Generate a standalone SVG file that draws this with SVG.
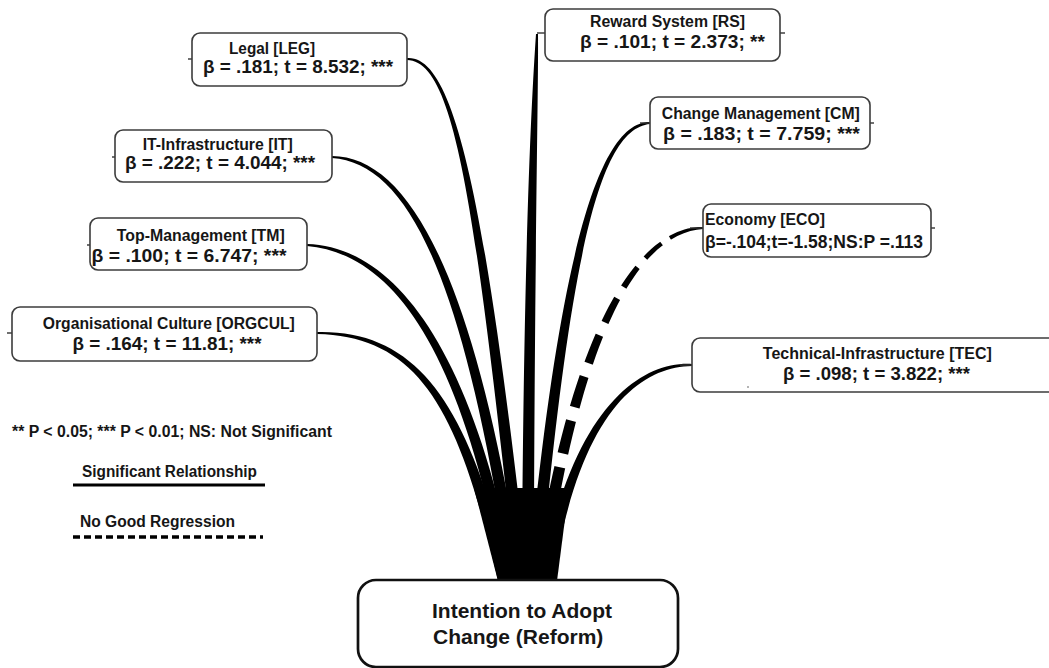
<svg xmlns="http://www.w3.org/2000/svg" width="1049" height="668" viewBox="0 0 1049 668">
  <style>
    .box { fill: #fff; stroke: #3c3c3c; stroke-width: 1.6; }
    .main { fill: #fff; stroke: #111; stroke-width: 2.7; }
    .t1 { font-family: "Liberation Sans", Arial, sans-serif; font-weight: bold; font-size: 15.8px; fill: #161616; }
    .t2 { font-family: "Liberation Sans", Arial, sans-serif; font-weight: bold; font-size: 19px; fill: #161616; }
    .t3 { font-family: "Liberation Sans", Arial, sans-serif; font-weight: bold; font-size: 21px; fill: #161616; }
    .stub { stroke: #333; stroke-width: 1.4; fill: none; }
    .link { fill: #000; }
  </style>
  <defs>
    <!-- dash pattern applied to the tapered Economy path -->
    <mask id="ecoDash" maskUnits="userSpaceOnUse" x="0" y="0" width="1049" height="668">
      <path d="M703,228 C650,229 580,300 540,580" fill="none" stroke="#fff" stroke-width="24"
            stroke-dasharray="35 10 22 12 24 13 27 14 30 14 32 14 34 14 36 14 38 14 40 14 42 14"/>
    </mask>
  </defs>

  <!-- tapered connectors converging on the outcome box -->
  <g id="connectors">
    <path class="link" d="M317,334 C420,336.5 459.6,411.2 498.2,581.3 L509.9,578.7 C470.4,408.8 420,329.5 317,332 Z"/>
    <path class="link" d="M306.9,246 C389.8,253.5 459.6,341 504.1,581.1 L515.9,578.9 C470.4,339 390.2,246.5 307.1,244 Z"/>
    <path class="link" d="M332,158 C409.9,163.5 464.6,280.8 510.1,580.9 L521.9,579.1 C475.4,279.2 410.1,156.5 332,156 Z"/>
    <path class="link" d="M407,60 C455.1,61.5 474.5,200.6 516,580.7 L528,579.3 C485.5,199.4 454.9,54.5 407,58 Z"/>
    <path class="link" d="M536,34 C531.5,99.9 523.5,250 522,580 L534,580 C534.5,250 538.5,100.1 538,34 Z"/>
    <path class="link" d="M650,122 C599.9,121.5 559.5,249.5 528,579.4 L540,580.6 C570.5,250.5 600.1,128.5 650,124 Z"/>
    <path class="link" mask="url(#ecoDash)" d="M703,227 C649.9,225.5 574.6,299.2 534.1,579.2 L545.9,580.9 C585.5,300.8 650.1,232.5 703,229 Z"/>
    <path class="link" d="M692,364 C640.1,361 570.6,409.3 541.1,579 L552.9,581 C579.4,410.7 639.9,367 692,366 Z"/>
    <!-- fused base where the connectors meet -->
    <path class="link" d="M474,488 L569,488 L557,581 L498,581 Z"/>
  </g>

  <g id="node-leg">
    <line class="stub" x1="188" y1="59" x2="192" y2="59"/>
    <rect class="box" x="192" y="33" width="215" height="53" rx="8"/>
    <text class="t1" x="272" y="54" text-anchor="middle" textLength="86" lengthAdjust="spacingAndGlyphs">Legal [LEG]</text>
    <text class="t2" x="298" y="73" text-anchor="middle" textLength="190" lengthAdjust="spacingAndGlyphs">β = .181; t = 8.532; ***</text>
  </g>

  <g id="node-rs">
    <line class="stub" x1="537" y1="33" x2="545" y2="33"/>
    <line class="stub" x1="780" y1="33" x2="785" y2="33"/>
    <rect class="box" x="545" y="9" width="235" height="52" rx="8"/>
    <text class="t1" x="667.5" y="27" text-anchor="middle" textLength="155" lengthAdjust="spacingAndGlyphs">Reward System [RS]</text>
    <text class="t2" x="672.5" y="48" text-anchor="middle" textLength="185" lengthAdjust="spacingAndGlyphs">β = .101; t = 2.373; **</text>
  </g>

  <g id="node-it">
    <line class="stub" x1="112" y1="157" x2="115" y2="157"/>
    <rect class="box" x="115" y="130" width="217" height="52" rx="8"/>
    <text class="t1" x="217.7" y="150" text-anchor="middle" textLength="150" lengthAdjust="spacingAndGlyphs">IT-Infrastructure [IT]</text>
    <text class="t2" x="220" y="169" text-anchor="middle" textLength="190" lengthAdjust="spacingAndGlyphs">β = .222; t = 4.044; ***</text>
  </g>

  <g id="node-tm">
    <line class="stub" x1="87" y1="245" x2="90" y2="245"/>
    <rect class="box" x="90" y="218" width="217" height="52" rx="8"/>
    <text class="t1" x="200.8" y="240.5" text-anchor="middle" textLength="168" lengthAdjust="spacingAndGlyphs">Top-Management [TM]</text>
    <text class="t2" x="189" y="262" text-anchor="middle" textLength="195" lengthAdjust="spacingAndGlyphs">β = .100; t = 6.747; ***</text>
  </g>

  <g id="node-orgcul">
    <line class="stub" x1="7" y1="333" x2="12" y2="333"/>
    <rect class="box" x="12" y="307" width="305" height="54" rx="8"/>
    <text class="t1" x="168.8" y="328.5" text-anchor="middle" textLength="252" lengthAdjust="spacingAndGlyphs">Organisational Culture [ORGCUL]</text>
    <text class="t2" x="167" y="350" text-anchor="middle" textLength="189" lengthAdjust="spacingAndGlyphs">β = .164; t = 11.81; ***</text>
  </g>

  <g id="node-cm">
    <line class="stub" x1="640" y1="123" x2="650" y2="123"/>
    <line class="stub" x1="870" y1="123" x2="874" y2="123"/>
    <rect class="box" x="650" y="97" width="220" height="52" rx="8"/>
    <text class="t1" x="760.8" y="118.5" text-anchor="middle" textLength="198" lengthAdjust="spacingAndGlyphs">Change Management [CM]</text>
    <text class="t2" x="761.5" y="140" text-anchor="middle" textLength="197" lengthAdjust="spacingAndGlyphs">β = .183; t = 7.759; ***</text>
  </g>

  <g id="node-eco">
    <line class="stub" x1="690" y1="228" x2="703" y2="228"/>
    <line class="stub" x1="931" y1="228" x2="935" y2="228"/>
    <rect class="box" x="703" y="204" width="228" height="53" rx="8"/>
    <text class="t1" x="705" y="225" textLength="120" lengthAdjust="spacingAndGlyphs">Economy [ECO]</text>
    <text class="t2" x="705" y="248" style="font-size:17.5px" textLength="218" lengthAdjust="spacingAndGlyphs">β=-.104;t=-1.58;NS:P =.113</text>
  </g>

  <g id="node-tec">
    <line class="stub" x1="680" y1="365" x2="692" y2="365"/>
    <rect class="box" x="692" y="338" width="370" height="54" rx="8"/>
    <circle cx="748" cy="387" r="0.8" fill="#555"/>
    <text class="t1" x="877.3" y="358.5" text-anchor="middle" textLength="229" lengthAdjust="spacingAndGlyphs">Technical-Infrastructure [TEC]</text>
    <text class="t2" x="876.5" y="380" text-anchor="middle" textLength="187" lengthAdjust="spacingAndGlyphs">β = .098; t = 3.822; ***</text>
  </g>

  <g id="node-intention">
    <rect class="main" x="358" y="580" width="320" height="87" rx="18"/>
    <text class="t3" x="432" y="618">Intention to Adopt</text>
    <text class="t3" x="433" y="644">Change (Reform)</text>
  </g>

  <g id="legend">
    <text class="t1" x="12" y="437" textLength="320" lengthAdjust="spacingAndGlyphs">** P &lt; 0.05; *** P &lt; 0.01; NS: Not Significant</text>
    <text class="t1" x="82" y="477" textLength="175" lengthAdjust="spacingAndGlyphs">Significant Relationship</text>
    <line x1="73" y1="485" x2="265" y2="485" stroke="#000" stroke-width="3"/>
    <text class="t1" x="80" y="527" textLength="155" lengthAdjust="spacingAndGlyphs">No Good Regression</text>
    <line x1="73" y1="537" x2="263" y2="537" stroke="#000" stroke-width="3.5" stroke-dasharray="7 4"/>
  </g>
</svg>
